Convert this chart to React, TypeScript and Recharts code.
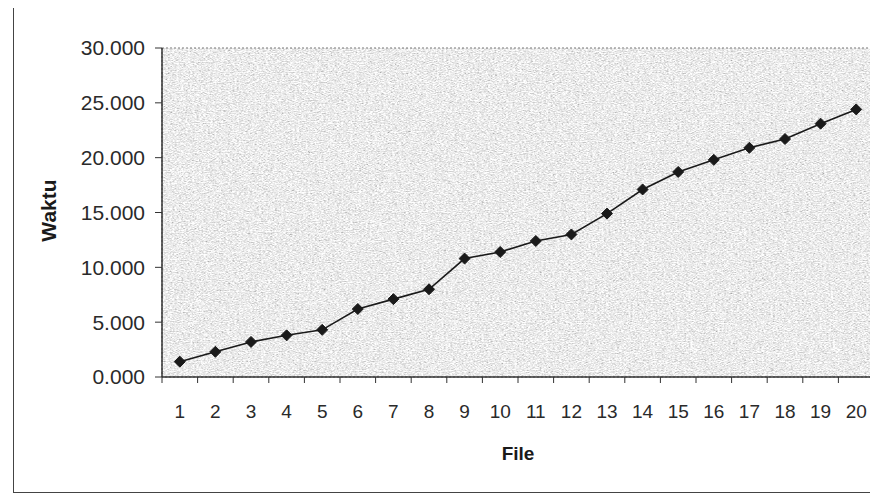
import React from "react";
import { LineChart, Line, XAxis, YAxis, ReferenceArea } from "recharts";

const files = [1, 2, 3, 4, 5, 6, 7, 8, 9, 10, 11, 12, 13, 14, 15, 16, 17, 18, 19, 20];
const waktu = [1.4, 2.3, 3.2, 3.8, 4.3, 6.2, 7.1, 8.0, 10.8, 11.4, 12.4, 13.0, 14.9, 17.1, 18.7, 19.8, 20.9, 21.7, 23.1, 24.4];
const yTicks = [0, 5, 10, 15, 20, 25, 30];
const boundaryTicks = [0.5, 1.5, 2.5, 3.5, 4.5, 5.5, 6.5, 7.5, 8.5, 9.5, 10.5, 11.5, 12.5, 13.5, 14.5, 15.5, 16.5, 17.5, 18.5, 19.5, 20.5];

const data = files.map((f, i) => ({ file: f, waktu: waktu[i] }));

const FONT = "'Liberation Sans', Arial, sans-serif";

const Diamond = (props: any) => {
  const { cx, cy } = props;
  if (cx == null || cy == null) return null;
  const r = 5.5;
  return (
    <polygon
      points={`${cx},${cy - r} ${cx + r},${cy} ${cx},${cy + r} ${cx - r},${cy}`}
      fill="#1a1a1a"
      stroke="#1a1a1a"
      strokeWidth={1}
    />
  );
};

export default function App() {
  return (
    <div
      style={{
        position: "relative",
        width: 880,
        height: 486,
        marginLeft: 5,
        marginTop: -1,
        border: "1.5px solid #444",
        boxSizing: "border-box",
      }}
    >
      <div style={{ position: "absolute", left: -6.5, top: -0.5, width: 870, height: 488 }}>
        <LineChart
          width={870}
          height={488}
          data={data}
          margin={{ top: 40, right: 4, bottom: 0, left: 0 }}
        >
          <defs>
            <filter id="grain" x="0%" y="0%" width="100%" height="100%">
              <feTurbulence type="fractalNoise" baseFrequency="0.45 1.1" numOctaves={3} seed={7} stitchTiles="stitch" />
              <feColorMatrix
                type="matrix"
                values="0.33 0.33 0.33 0 0  0.33 0.33 0.33 0 0  0.33 0.33 0.33 0 0  0 0 0 0 1"
              />
              <feComponentTransfer>
                <feFuncR type="linear" slope={1.6} intercept={0.04} />
                <feFuncG type="linear" slope={1.6} intercept={0.04} />
                <feFuncB type="linear" slope={1.6} intercept={0.04} />
              </feComponentTransfer>
            </filter>
          </defs>
          <XAxis
            xAxisId="grid"
            type="number"
            dataKey="file"
            domain={[0.5, 20.5]}
            ticks={boundaryTicks}
            tickFormatter={() => ""}
            height={1}
            axisLine={{ stroke: "#333", strokeWidth: 1.5 }}
            tickLine={{ stroke: "#333" }}
            tickSize={6}
            allowDataOverflow
          />
          <XAxis
            xAxisId="lbl"
            type="number"
            dataKey="file"
            domain={[0.5, 20.5]}
            ticks={files}
            interval={0}
            height={118}
            axisLine={false}
            tickLine={false}
            tickSize={0}
            tickMargin={27}
            tick={{ fill: "#2a2a2a", fontSize: 19, fontFamily: FONT }}
            allowDataOverflow
            label={{
              content: (p: any) => {
                const vb = p.viewBox;
                return (
                  <text
                    x={vb.x + vb.width / 2}
                    y={vb.y + 82}
                    textAnchor="middle"
                    fontFamily={FONT}
                    fontWeight="bold"
                    fontSize={19}
                    fill="#1a1a1a"
                  >
                    File
                  </text>
                );
              },
            }}
          />
          <YAxis
            type="number"
            domain={[0, 30]}
            ticks={yTicks}
            interval={0}
            width={154}
            tickFormatter={(v: number) => v.toFixed(3)}
            axisLine={{ stroke: "#333", strokeWidth: 1.5 }}
            tickLine={{ stroke: "#333" }}
            tickSize={7}
            tickMargin={10}
            tick={{ fill: "#2a2a2a", fontSize: 21, fontFamily: FONT }}
            label={{
              content: (p: any) => {
                const vb = p.viewBox;
                const x = vb.x + 40;
                const y = vb.y + vb.height / 2 - 2;
                return (
                  <text
                    x={x}
                    y={y}
                    transform={`rotate(-90, ${x}, ${y})`}
                    textAnchor="middle"
                    dominantBaseline="central"
                    fontFamily={FONT}
                    fontWeight="bold"
                    fontSize={21}
                    fill="#1a1a1a"
                  >
                    Waktu
                  </text>
                );
              },
            }}
          />
          <ReferenceArea
            xAxisId="lbl"
            x1={0.5}
            x2={20.5}
            y1={0}
            y2={30}
            fill="#d6d6d6"
            fillOpacity={1}
            filter="url(#grain)"
            ifOverflow="extendDomain"
          />
          <ReferenceArea
            xAxisId="lbl"
            x1={0.5}
            x2={20.5}
            y1={0}
            y2={30}
            fill="none"
            stroke="#777"
            strokeDasharray="2 2"
            ifOverflow="extendDomain"
          />
          <Line
            xAxisId="lbl"
            type="linear"
            dataKey="waktu"
            stroke="#1a1a1a"
            strokeWidth={1.6}
            dot={<Diamond />}
            activeDot={false}
            isAnimationActive={false}
          />
        </LineChart>
      </div>
    </div>
  );
}
